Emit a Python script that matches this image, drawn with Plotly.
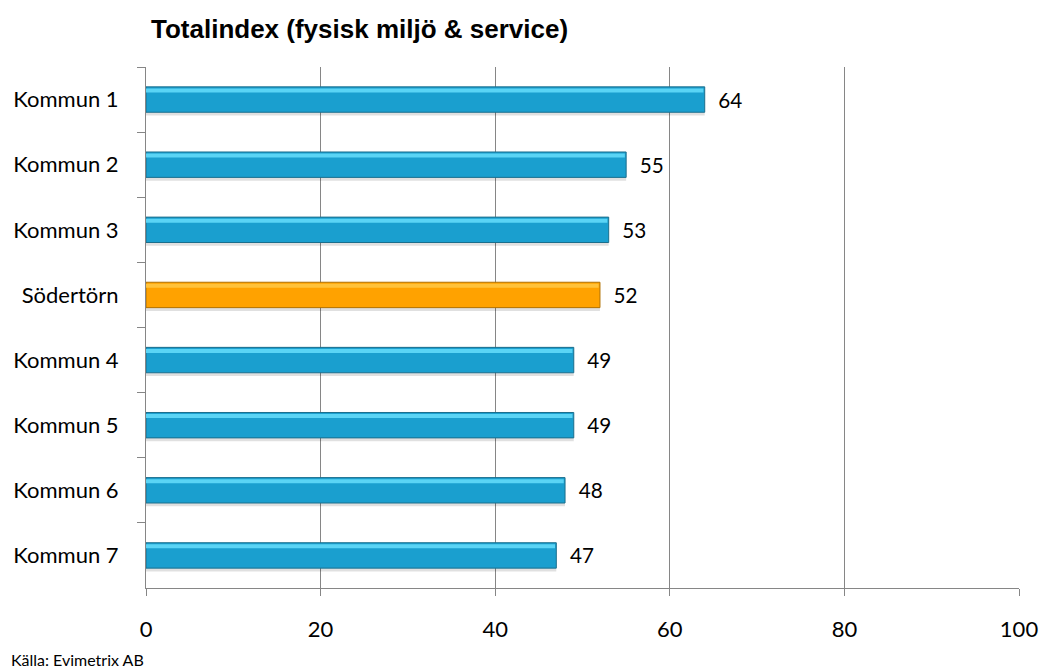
import plotly.graph_objects as go

categories = ["Kommun 1", "Kommun 2", "Kommun 3", "Södertörn",
              "Kommun 4", "Kommun 5", "Kommun 6", "Kommun 7"]
values = [64, 55, 53, 52, 49, 49, 48, 47]
highlight = "Södertörn"
x_ticks = [0, 20, 40, 60, 80, 100]

LABEL_FONT = "Lato, Open Sans, sans-serif"

is_hl = [c == highlight for c in categories]
fill = ["#ffa200" if h else "#1a9fcf" for h in is_hl]
edge = ["#b07000" if h else "#1b6e8c" for h in is_hl]
shine = ["#ffc23a" if h else "#5ad4f5" for h in is_hl]

BAR_W = 0.39

fig = go.Figure()
# soft drop shadow under each bar
fig.add_trace(go.Bar(
    x=values, y=categories, orientation="h", width=0.05, offset=BAR_W / 2,
    marker=dict(color="rgba(0,0,0,0.12)", line=dict(width=0)),
    hoverinfo="skip",
))
# main bars with value labels
fig.add_trace(go.Bar(
    x=values, y=categories, orientation="h", width=BAR_W, offset=-BAR_W / 2,
    marker=dict(color=fill, line=dict(color=edge, width=1)),
    text=values, texttemplate="  %{text}", textposition="outside",
    textfont=dict(family=LABEL_FONT, size=22, color="#000"),
    cliponaxis=False,
))
# glossy highlight strip along the top edge
fig.add_trace(go.Bar(
    x=[v - 0.15 for v in values], y=categories, orientation="h",
    width=0.06, offset=-BAR_W / 2 + 0.025,
    marker=dict(color=shine, line=dict(width=0)),
    hoverinfo="skip",
))

fig.update_layout(
    width=1043, height=672,
    barmode="overlay",
    margin=dict(l=146, r=24, t=67, b=84, autoexpand=False),
    plot_bgcolor="white", paper_bgcolor="white",
    showlegend=False,
    title=dict(text="<b>Totalindex (fysisk miljö & service)</b>",
               x=151 / 1043, xanchor="left", y=1 - 29 / 672, yanchor="middle",
               font=dict(family="Liberation Sans, Arial, sans-serif", size=26, color="#000")),
    font=dict(family=LABEL_FONT, size=22, color="#000"),
)
fig.update_xaxes(
    range=[0, 100], tickvals=x_ticks, showgrid=True, gridcolor="#868686", gridwidth=1,
    showline=True, linecolor="#868686", linewidth=1, ticks="outside", ticklen=7,
    tickcolor="#868686", zeroline=False, tickfont=dict(size=22), ticklabelstandoff=15,
)
fig.update_yaxes(
    categoryorder="array", categoryarray=categories, autorange="reversed",
    showline=True, linecolor="#868686", linewidth=1, ticks="outside", ticklen=8,
    tickcolor="#868686", tickson="boundaries", showgrid=False, tickfont=dict(size=22),
    ticklabelstandoff=22,
)
# source note below the chart (paper coords relative to the plot area)
fig.add_annotation(text="Källa: Evimetrix AB",
                   x=(9 - 146) / 873, y=(588 - 671) / 521,
                   xref="paper", yref="paper", xanchor="left", yanchor="bottom",
                   showarrow=False, font=dict(family=LABEL_FONT, size=16, color="#000"))

fig.write_html("out.html")
